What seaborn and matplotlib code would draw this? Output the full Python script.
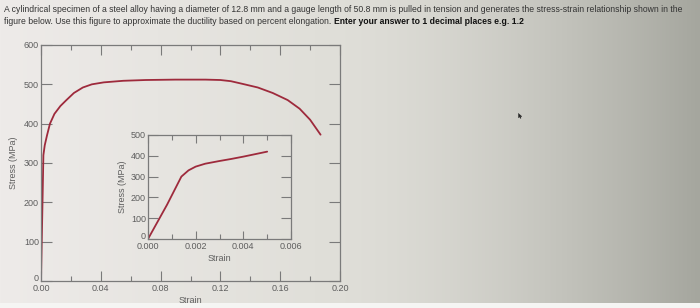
import numpy as np
import pandas as pd
import matplotlib
matplotlib.use("Agg")
import matplotlib.pyplot as plt
import matplotlib.transforms as mtransforms
import seaborn as sns
from matplotlib.ticker import MultipleLocator, FixedLocator

# ---- data ----
strain_main = [0.0, 0.0016, 0.0025, 0.004, 0.006, 0.009, 0.013, 0.017, 0.022, 0.028,
               0.034, 0.042, 0.055, 0.070, 0.090, 0.110, 0.120, 0.127, 0.135, 0.145,
               0.155, 0.165, 0.173, 0.180, 0.187]
stress_main = [0, 320, 345, 370, 400, 425, 445, 460, 478, 492,
               500, 505, 509, 511, 512, 512, 511, 508, 501, 492,
               478, 460, 438, 410, 372]

strain_inset = [0.0, 0.0008, 0.0014, 0.0017, 0.0020, 0.0024, 0.0030, 0.0035, 0.0040, 0.0045, 0.0050]
stress_inset = [0, 165, 300, 330, 348, 362, 375, 385, 396, 408, 420]

main_xticks = [0.00, 0.04, 0.08, 0.12, 0.16, 0.20]
main_xticklabels = ["0.00", "0.04", "0.08", "0.12", "0.16", "0.20"]
main_yticks = [0, 100, 200, 300, 400, 500, 600]
main_yticklabels = ["0", "100", "200", "300", "400", "500", "600"]

inset_xticks = [0.000, 0.002, 0.004, 0.006]
inset_xticklabels = ["0.000", "0.002", "0.004", "0.006"]
inset_yticks = [0, 100, 200, 300, 400, 500]
inset_yticklabels = ["0", "100", "200", "300", "400", "500"]

question_part1 = ("A cylindrical specimen of a steel alloy having a diameter of 12.8 mm and a gauge length "
                  "of 50.8 mm is pulled in tension and generates the stress-strain relationship shown in the")
question_part2 = "figure below. Use this figure to approximate the ductility based on percent elongation. "
question_bold = "Enter your answer to 1 decimal places e.g. 1.2"

# ---- style ----
sns.set_style("ticks")
plt.rcParams['font.family'] = ['Liberation Sans', 'DejaVu Sans']

CURVE = "#9e2a3c"
SPINE = "#7a7a7a"
TXT = "#5e5e5e"
QFS = 6.25

fig = plt.figure(figsize=(7.0, 3.08), dpi=100)

# photographed-screen background gradient
bg = fig.add_axes([0, 0, 1, 1], zorder=-10)
W, H = 700, 308
xs = np.linspace(0, 1, W)
ys = np.linspace(0, 1, H)
X, Y = np.meshgrid(xs, ys)
left = np.array([238, 235, 233]) / 255
mid = np.array([224, 223, 217]) / 255
right = np.array([165, 166, 158]) / 255
t = np.clip((X - 0.45) / 0.55, 0, 1) ** 1.6
img = left[None, None, :] * (1 - np.clip(X / 0.45, 0, 1))[..., None] + mid[None, None, :] * np.clip(X / 0.45, 0, 1)[..., None]
img = img * (1 - t[..., None]) + right[None, None, :] * t[..., None]
img[Y > 0.985] = np.array([245, 245, 243]) / 255
bg.imshow(img, aspect='auto', extent=[0, 1, 0, 1], origin='upper')
bg.set_xlim(0, 1)
bg.set_ylim(0, 1)
bg.axis('off')
# mouse pointer (arrow cursor)
cursor = [(0, 0), (0, -1.0), (0.27, -0.76), (0.45, -1.15), (0.6, -1.08), (0.42, -0.7), (0.78, -0.7), (0, 0)]
bg.plot([518 / 700], [1 - 113 / 308], marker=cursor, color="#222222", markersize=7, markeredgewidth=0.3)

# question text
fig.text(4 / 700, 1 - 10 / 308, question_part1, fontsize=QFS, color="#333333", va='center', ha='left')
t2 = fig.text(4 / 700, 1 - 22 / 308, question_part2, fontsize=QFS, color="#333333", va='center', ha='left')
renderer = fig.canvas.get_renderer()
bb = t2.get_window_extent(renderer=renderer)
fig.text(bb.x1 / (7.0 * 100), 1 - 22 / 308, question_bold, fontsize=QFS, color="#111111",
         fontweight='bold', va='center', ha='left')


def style_axes(ax):
    ax.patch.set_alpha(0)
    for s in ax.spines.values():
        s.set_visible(True)
        s.set_color(SPINE)
        s.set_linewidth(0.9)
    ax.tick_params(which='both', direction='in', colors=SPINE, labelcolor=TXT,
                   top=True, right=True, labelsize=6.5, width=0.8)


def lift_zero_label(ax):
    lab = ax.get_yticklabels()[0]
    lab.set_transform(lab.get_transform() + mtransforms.ScaledTranslation(0, 2.5 / 72, fig.dpi_scale_trans))


# ---- main axes ----
ax = fig.add_axes([41 / 700, 1 - 281 / 308, 299 / 700, 236 / 308])
df_main = pd.DataFrame({"Strain": strain_main, "Stress": stress_main})
sns.lineplot(data=df_main, x="Strain", y="Stress", ax=ax, color=CURVE, linewidth=1.3,
             sort=False, estimator=None)
ax.set_xlim(0, 0.20)
ax.set_ylim(0, 600)
ax.xaxis.set_major_locator(FixedLocator(main_xticks))
ax.set_xticklabels(main_xticklabels)
ax.xaxis.set_minor_locator(MultipleLocator(0.02))
ax.yaxis.set_major_locator(FixedLocator(main_yticks))
ax.set_yticklabels(main_yticklabels)
style_axes(ax)
ax.tick_params(axis='x', which='major', length=7, pad=2.5)
ax.tick_params(axis='x', which='minor', length=3.5)
ax.tick_params(axis='y', which='major', length=8, pad=1.5)
ax.set_xlabel("Strain", fontsize=6.5, color=TXT, labelpad=2)
ax.set_ylabel("Stress (MPa)", fontsize=6.5, color=TXT, labelpad=4)
lift_zero_label(ax)

# ---- inset axes ----
ax2 = fig.add_axes([148 / 700, 1 - 239 / 308, 143 / 700, 104 / 308])
df_in = pd.DataFrame({"Strain": strain_inset, "Stress": stress_inset})
sns.lineplot(data=df_in, x="Strain", y="Stress", ax=ax2, color=CURVE, linewidth=1.3,
             sort=False, estimator=None)
ax2.set_xlim(0, 0.006)
ax2.set_ylim(0, 500)
ax2.xaxis.set_major_locator(FixedLocator(inset_xticks))
ax2.set_xticklabels(inset_xticklabels)
ax2.xaxis.set_minor_locator(MultipleLocator(0.001))
ax2.yaxis.set_major_locator(FixedLocator(inset_yticks))
ax2.set_yticklabels(inset_yticklabels)
style_axes(ax2)
ax2.tick_params(axis='x', which='major', length=6, pad=2.5)
ax2.tick_params(axis='x', which='minor', length=3.5)
ax2.tick_params(axis='y', which='major', length=7, pad=1.5)
ax2.set_xlabel("Strain", fontsize=6.5, color=TXT, labelpad=2)
ax2.set_ylabel("Stress (MPa)", fontsize=6.5, color=TXT, labelpad=3)
lift_zero_label(ax2)

fig.savefig("out.png", dpi=100)
